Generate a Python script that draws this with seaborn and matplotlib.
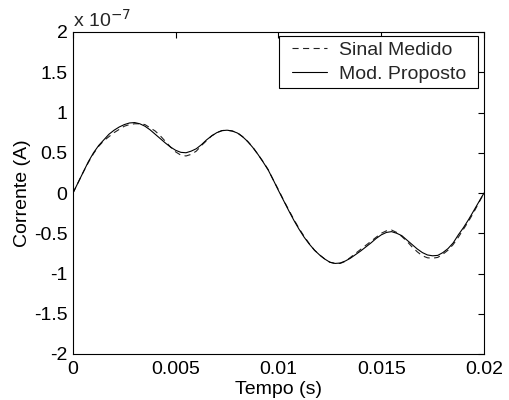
import matplotlib
matplotlib.use("Agg")
import matplotlib.pyplot as plt
from matplotlib.ticker import FuncFormatter
from matplotlib.legend_handler import HandlerLine2D
import seaborn as sns
import pandas as pd

# time axis (s), one sample every 0.25 ms
tempo = [0.0, 0.00025, 0.0005, 0.00075, 0.001, 0.00125, 0.0015, 0.00175, 0.002, 0.00225,
         0.0025, 0.00275, 0.003, 0.00325, 0.0035, 0.00375, 0.004, 0.00425, 0.0045, 0.00475,
         0.005, 0.00525, 0.0055, 0.00575, 0.006, 0.00625, 0.0065, 0.00675, 0.007, 0.00725,
         0.0075, 0.00775, 0.008, 0.00825, 0.0085, 0.00875, 0.009, 0.00925, 0.0095, 0.00975,
         0.01, 0.01025, 0.0105, 0.01075, 0.011, 0.01125, 0.0115, 0.01175, 0.012, 0.01225,
         0.0125, 0.01275, 0.013, 0.01325, 0.0135, 0.01375, 0.014, 0.01425, 0.0145, 0.01475,
         0.015, 0.01525, 0.0155, 0.01575, 0.016, 0.01625, 0.0165, 0.01675, 0.017, 0.01725,
         0.0175, 0.01775, 0.018, 0.01825, 0.0185, 0.01875, 0.019, 0.01925, 0.0195, 0.01975,
         0.02]

# current values in units of 1e-7 A
sinal_medido = [0.00, 0.13, 0.26, 0.38, 0.49, 0.58, 0.65, 0.70, 0.75, 0.79,
                0.83, 0.85, 0.86, 0.86, 0.85, 0.81, 0.77, 0.71, 0.64, 0.57,
                0.51, 0.47, 0.46, 0.48, 0.52, 0.59, 0.65, 0.71, 0.75, 0.775,
                0.78, 0.77, 0.75, 0.70, 0.64, 0.57, 0.48, 0.39, 0.29, 0.16,
                0.04, -0.09, -0.21, -0.33, -0.44, -0.54, -0.63, -0.71, -0.77, -0.82,
                -0.86, -0.875, -0.875, -0.85, -0.80, -0.75, -0.70, -0.65, -0.60, -0.55,
                -0.50, -0.47, -0.46, -0.49, -0.54, -0.60, -0.67, -0.73, -0.78, -0.805,
                -0.81, -0.80, -0.76, -0.71, -0.64, -0.55, -0.45, -0.35, -0.24, -0.12,
                0.00]
mod_proposto = [0.00, 0.13, 0.26, 0.39, 0.50, 0.59, 0.66, 0.73, 0.78, 0.82,
                0.85, 0.87, 0.875, 0.86, 0.83, 0.785, 0.73, 0.675, 0.62, 0.57,
                0.53, 0.505, 0.50, 0.52, 0.55, 0.60, 0.66, 0.71, 0.75, 0.775,
                0.78, 0.77, 0.745, 0.70, 0.64, 0.565, 0.48, 0.385, 0.285, 0.16,
                0.03, -0.095, -0.22, -0.34, -0.45, -0.55, -0.635, -0.71, -0.77, -0.82,
                -0.86, -0.875, -0.87, -0.845, -0.81, -0.765, -0.72, -0.67, -0.62, -0.565,
                -0.52, -0.49, -0.48, -0.50, -0.53, -0.585, -0.64, -0.695, -0.74, -0.77,
                -0.78, -0.775, -0.74, -0.69, -0.62, -0.52, -0.43, -0.33, -0.22, -0.11,
                0.00]

x_ticks = [0, 0.005, 0.01, 0.015, 0.02]
y_ticks = [-2, -1.5, -1, -0.5, 0, 0.5, 1, 1.5, 2]

sns.set_style("white")
plt.rcParams['font.family'] = ['Liberation Sans', 'DejaVu Sans']
plt.rcParams['axes.unicode_minus'] = False

df = pd.DataFrame({'tempo': tempo, 'medido': sinal_medido, 'proposto': mod_proposto})

fig = plt.figure(figsize=(5.09, 4.0), dpi=100)
ax = fig.add_axes([0.1434, 0.115, 0.8075, 0.805])

sns.lineplot(data=df, x='tempo', y='medido', ax=ax, color='#222222',
             linewidth=0.8, linestyle=(0, (5.5, 4)), label='Sinal Medido')
sns.lineplot(data=df, x='tempo', y='proposto', ax=ax, color='black',
             linewidth=0.8, label='Mod. Proposto')

ax.set_xlim(0, 0.02)
ax.set_ylim(-2, 2)
ax.set_xticks(x_ticks)
ax.set_yticks(y_ticks)
fmt = FuncFormatter(lambda v, p: '%g' % v)
ax.xaxis.set_major_formatter(fmt)
ax.yaxis.set_major_formatter(fmt)
ax.tick_params(direction='in', length=4, width=0.8, top=True, right=True,
               labelsize=14, colors='black')
ax.tick_params(axis='x', pad=5)
ax.tick_params(axis='y', pad=4)
for s in ax.spines.values():
    s.set_color('black')
    s.set_linewidth(0.8)

ax.set_xlabel('Tempo (s)', fontsize=14, color='black', labelpad=2)
ax.set_ylabel('Corrente (A)', fontsize=14, color='black', labelpad=2)
ax.text(0.0, 1.005, r'x 10$^{-7}$', transform=ax.transAxes, fontsize=14,
        ha='left', va='bottom')

# legend box roughly where the original sits, handles shifted right a bit
leg = ax.legend(loc='upper right', bbox_to_anchor=(0.501, 0.0, 0.484, 0.9876),
                mode='expand', borderaxespad=0, fontsize=14, frameon=True,
                fancybox=False, edgecolor='black', framealpha=1,
                handlelength=2.2, handletextpad=0.6, borderpad=0.27,
                labelspacing=0.33,
                handler_map={matplotlib.lines.Line2D: HandlerLine2D(xpad=0.4)})
leg.get_frame().set_linewidth(0.8)

fig.savefig('out.png', dpi=100)
